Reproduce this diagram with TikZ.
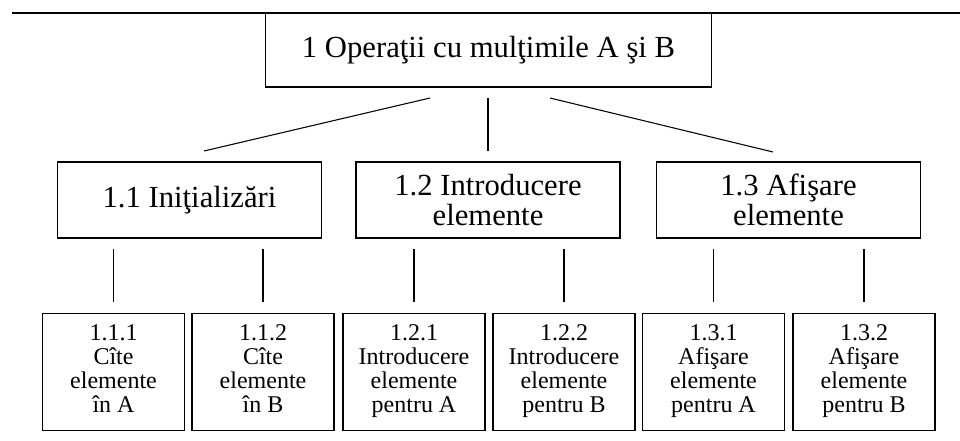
\documentclass[tikz,border=0pt]{standalone}
\usepackage{fontspec}
\setmainfont{Liberation Serif}
\begin{document}
\begin{tikzpicture}[x=0.75pt,y=-0.75pt,line width=0.8pt,
    box/.style={draw,align=center,inner sep=0pt},
    big/.style={box,font=\fontsize{23}{23}\selectfont,minimum height=57pt,minimum width=198pt},
    small/.style={box,font=\fontsize{18}{18}\selectfont,minimum height=88pt,minimum width=106.5pt,
      execute at begin node={\rule{0pt}{22pt}},execute at end node=\strut},
    link/.style={shorten <=8pt,shorten >=8pt}]
  \useasboundingbox (0,0) rectangle (960,440);
  \draw[line width=1.4pt] (12,13) -- (960,13);
  % nivelul 1
  \node[box,font=\fontsize{23}{25}\selectfont,minimum width=335pt,minimum height=55.5pt] (R) at (488.5,50) {1 Operaţii cu mulţimile A şi B};
  % nivelul 2
  \node[big] (N1) at (189.5,200) {1.1 Iniţializări};
  \node[big] (N2) at (488,200) {1.2 Introducere\\elemente};
  \node[big] (N3) at (788.5,200) {1.3 Afişare\\elemente};
  % nivelul 3
  \node[small] (N11) at (113.5,372) {1.1.1\\Cîte\\elemente\\în A};
  \node[small] (N12) at (263,372) {1.1.2\\Cîte\\elemente\\în B};
  \node[small] (N21) at (414,372) {1.2.1\\Introducere\\elemente\\pentru A};
  \node[small] (N22) at (564,372) {1.2.2\\Introducere\\elemente\\pentru B};
  \node[small] (N31) at (713.5,372) {1.3.1\\Afişare\\elemente\\pentru A};
  \node[small] (N32) at (864,372) {1.3.2\\Afişare\\elemente\\pentru B};
  \coordinate (L1) at (430,98);
  \coordinate (L2) at (204,151);
  \coordinate (D1) at (550,98);
  \coordinate (D2) at (773,152);
  \draw (L1) -- (L2);
  \draw (D1) -- (D2);
  \draw[link] (R.south -| N2.north) -- (N2.north);
  \draw[link] (N1.south -| N11.north) -- (N11.north);
  \draw[link] (N1.south -| N12.north) -- (N12.north);
  \draw[link] (N2.south -| N21.north) -- (N21.north);
  \draw[link] (N2.south -| N22.north) -- (N22.north);
  \draw[link] (N3.south -| N31.north) -- (N31.north);
  \draw[link] (N3.south -| N32.north) -- (N32.north);
\end{tikzpicture}
\end{document}
